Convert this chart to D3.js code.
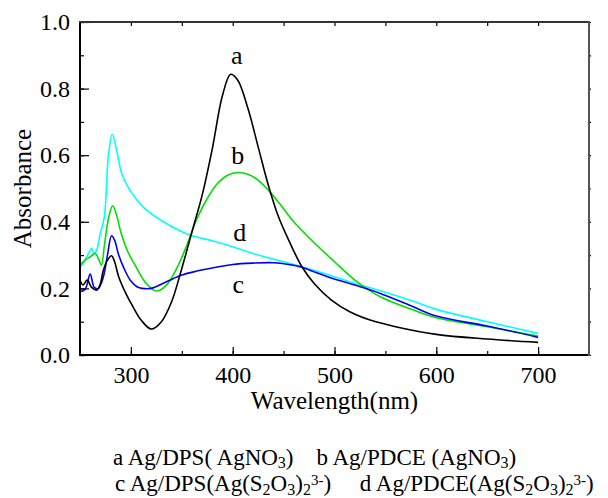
<!DOCTYPE html>
<html>
<head>
  <script src="https://d3js.org/d3.v7.min.js"></script>
  <title>Absorbance spectra</title>
  <style>
    body { margin: 0; background: white; }
    svg { display: block; font-family: 'Liberation Serif', 'Times New Roman', serif; }
    .line { fill: none; stroke-width: 1.6; }
    .legend { white-space: pre; }
  </style>
</head>
<body>
<div class="chart"></div>
<script>
  // curve a : Ag/DPS (AgNO3)
  const wlA = [250, 253, 257, 261.5, 266.4, 269.6, 273, 277, 281, 284, 288, 295, 302, 310, 320, 330, 340, 350, 360, 370, 380, 390, 398, 405, 415, 425, 435, 445, 455, 468, 480, 497, 515, 535, 560, 600, 650, 700];
  const absA = [0.225, 0.21, 0.225, 0.203, 0.195, 0.21, 0.255, 0.285, 0.298, 0.28, 0.235, 0.185, 0.145, 0.105, 0.078, 0.1, 0.16, 0.26, 0.37, 0.48, 0.62, 0.78, 0.843, 0.825, 0.74, 0.625, 0.51, 0.415, 0.345, 0.265, 0.215, 0.165, 0.13, 0.105, 0.085, 0.062, 0.048, 0.038];

  // curve b : Ag/PDCE (AgNO3)
  const wlB = [250, 255, 260, 265, 268, 271, 274, 278, 282, 286, 290, 297, 305, 315, 325, 335, 345, 355, 365, 375, 385, 395, 405, 415, 425, 435, 446, 460, 479, 500, 520, 545, 575, 600, 650, 700];
  const absB = [0.27, 0.285, 0.295, 0.305, 0.29, 0.27, 0.33, 0.41, 0.448, 0.42, 0.37, 0.31, 0.265, 0.215, 0.192, 0.21, 0.26, 0.33, 0.41, 0.47, 0.515, 0.54, 0.548, 0.543, 0.525, 0.495, 0.455, 0.4, 0.34, 0.28, 0.225, 0.175, 0.138, 0.112, 0.085, 0.057];

  // curve c : Ag/DPS (Ag(S2O3)2 3-)
  const wlC = [250, 255, 260, 264, 268, 273, 277, 281, 284, 288, 294, 300, 306, 311, 320, 335, 350, 365, 381, 400, 420, 440, 455, 466, 480, 496, 520, 545, 575, 600, 650, 700];
  const absC = [0.19, 0.197, 0.243, 0.203, 0.2, 0.235, 0.3, 0.358, 0.345, 0.3, 0.255, 0.222, 0.205, 0.2, 0.2, 0.22, 0.24, 0.252, 0.262, 0.272, 0.276, 0.277, 0.272, 0.265, 0.25, 0.232, 0.21, 0.185, 0.148, 0.117, 0.087, 0.053];

  // curve d : Ag/PDCE (Ag(S2O3)2 3-)
  const wlD = [250, 252, 256.6, 261.5, 263.7, 266.4, 269.6, 273.9, 277.8, 281.7, 286, 291, 299, 312, 332, 358, 380, 400, 420, 446, 468, 490, 520, 545, 574, 600, 650, 700];
  const absD = [0.265, 0.27, 0.295, 0.32, 0.305, 0.315, 0.36, 0.415, 0.595, 0.663, 0.615, 0.545, 0.495, 0.445, 0.4, 0.36, 0.343, 0.325, 0.305, 0.283, 0.265, 0.245, 0.215, 0.193, 0.165, 0.137, 0.1, 0.065];

  const curveNames = ["a", "b", "c", "d"];
  const curveColors = ["#000000", "#00e000", "#0000f0", "#00ffff"];
  const xTicks = [300, 400, 500, 600, 700];
  const yTicks = [0.0, 0.2, 0.4, 0.6, 0.8, 1.0];

  const w = 608;
  const h = 498;
  const pLeft = 80, pRight = 589, pTop = 22, pBottom = 355;

  const x = d3.scaleLinear().domain([250, 750]).range([pLeft, pRight]);
  const y = d3.scaleLinear().domain([0, 1]).range([pBottom, pTop]);

  const svg = d3.select(".chart")
    .append("svg")
    .attr("width", w)
    .attr("height", h);

  const series = [
    [wlA, absA], [wlB, absB], [wlC, absC], [wlD, absD]
  ];

  const line = d3.line()
    .x(d => x(d[0]))
    .y(d => y(d[1]))
    .curve(d3.curveCatmullRom.alpha(0.5));

  // draw d first so the others sit on top, like the original
  [3, 1, 2, 0].forEach(i => {
    const pts = series[i][0].map((wl, j) => [wl, series[i][1][j]]);
    svg.append("path")
      .datum(pts)
      .attr("class", "line")
      .attr("stroke", curveColors[i])
      .attr("d", line);
  });

  // bottom axis, ticks pointing in
  svg.append("g")
    .attr("transform", `translate(0,${pBottom})`)
    .call(d3.axisBottom(x).tickValues(d3.range(300, 751, 50)).tickSize(-4).tickFormat(""))
    .call(g => g.select(".domain").remove());
  svg.append("g")
    .attr("transform", `translate(0,${pBottom})`)
    .call(d3.axisBottom(x).tickValues(xTicks).tickSize(-8).tickPadding(11).tickFormat(d3.format("d")))
    .call(g => g.select(".domain").remove())
    .call(g => g.selectAll("text").attr("font-size", 24).attr("fill", "#000").attr("font-family", "'Liberation Serif', serif"));

  // left axis
  svg.append("g")
    .attr("transform", `translate(${pLeft},0)`)
    .call(d3.axisLeft(y).ticks(10).tickSize(-4).tickFormat(""))
    .call(g => g.select(".domain").remove());
  svg.append("g")
    .attr("transform", `translate(${pLeft},0)`)
    .call(d3.axisLeft(y).tickValues(yTicks).tickSize(-9).tickPadding(10).tickFormat(d3.format(".1f")))
    .call(g => g.select(".domain").remove())
    .call(g => g.selectAll("text").attr("font-size", 24).attr("fill", "#000").attr("font-family", "'Liberation Serif', serif"));

  // top axis, small ticks down
  svg.append("g")
    .attr("transform", `translate(0,${pTop})`)
    .call(d3.axisTop(x).tickValues(d3.range(300, 751, 50)).tickSize(-4).tickFormat(""))
    .call(g => g.select(".domain").remove());

  // right axis, tiny ticks
  svg.append("g")
    .attr("transform", `translate(${pRight},0)`)
    .call(d3.axisRight(y).ticks(10).tickSize(2).tickFormat(""))
    .call(g => g.select(".domain").remove());

  svg.selectAll(".tick line").attr("stroke", "#000").attr("stroke-width", 1.2);

  // frame
  svg.append("line").attr("x1", pLeft).attr("x2", pLeft).attr("y1", pTop).attr("y2", pBottom + 1).attr("stroke", "#000").attr("stroke-width", 2);
  svg.append("line").attr("x1", pLeft - 1).attr("x2", pRight).attr("y1", pBottom).attr("y2", pBottom).attr("stroke", "#000").attr("stroke-width", 2);
  svg.append("line").attr("x1", pLeft - 1).attr("x2", pRight).attr("y1", pTop).attr("y2", pTop).attr("stroke", "#333").attr("stroke-width", 2);
  svg.append("line").attr("x1", pRight).attr("x2", pRight).attr("y1", pTop - 1).attr("y2", pBottom + 1).attr("stroke", "#555").attr("stroke-width", 2);

  // curve letters
  const labelPos = [[404, 0.874], [405, 0.574], [405.5, 0.186], [407, 0.342]];
  curveNames.forEach((n, i) => {
    svg.append("text")
      .attr("x", x(labelPos[i][0]))
      .attr("y", y(labelPos[i][1]))
      .attr("text-anchor", "middle")
      .attr("font-size", 26)
      .text(n);
  });

  // axis titles
  svg.append("text")
    .attr("x", (pLeft + pRight) / 2)
    .attr("y", 409)
    .attr("text-anchor", "middle")
    .attr("font-size", 25)
    .text("Wavelength(nm)");

  svg.append("text")
    .attr("transform", `translate(31,${(pTop + pBottom) / 2}) rotate(-90)`)
    .attr("text-anchor", "middle")
    .attr("font-size", 25)
    .text("Absorbance");

  // legend block under the chart
  const l1 = svg.append("text").attr("class", "legend").attr("font-size", 23).attr("x", 113).attr("y", 465);
  l1.append("tspan").text("a Ag/DPS( AgNO");
  l1.append("tspan").attr("font-size", 16).attr("dy", 3).text("3");
  l1.append("tspan").attr("dy", -3).text(")    b Ag/PDCE (AgNO");
  l1.append("tspan").attr("font-size", 16).attr("dy", 3).text("3");
  l1.append("tspan").attr("dy", -3).text(")");

  const l2 = svg.append("text").attr("class", "legend").attr("font-size", 23).attr("x", 115).attr("y", 491);
  l2.append("tspan").text("c Ag/DPS(Ag(S");
  l2.append("tspan").attr("font-size", 16).attr("dy", 4).text("2");
  l2.append("tspan").attr("dy", -4).text("O");
  l2.append("tspan").attr("font-size", 16).attr("dy", 4).text("3");
  l2.append("tspan").attr("dy", -4).text(")");
  l2.append("tspan").attr("font-size", 16).attr("dy", 4).text("2");
  l2.append("tspan").attr("font-size", 15).attr("dy", -10).text("3-");
  l2.append("tspan").attr("dy", 6).text(")     d Ag/PDCE(Ag(S");
  l2.append("tspan").attr("font-size", 16).attr("dy", 4).text("2");
  l2.append("tspan").attr("dy", -4).text("O");
  l2.append("tspan").attr("font-size", 16).attr("dy", 4).text("3");
  l2.append("tspan").attr("dy", -4).text(")");
  l2.append("tspan").attr("font-size", 16).attr("dy", 4).text("2");
  l2.append("tspan").attr("font-size", 15).attr("dy", -10).text("3-");
  l2.append("tspan").attr("dy", 6).text(")");
</script>
</body>
</html>
